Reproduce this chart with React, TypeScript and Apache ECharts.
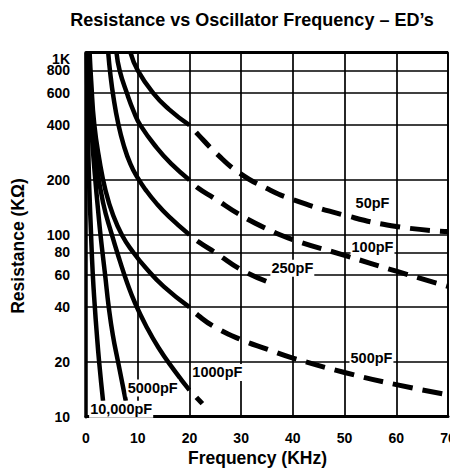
import React, { useEffect, useRef } from "react";
import * as echarts from "echarts";

const FONT = '"Liberation Sans", Arial, Helvetica, sans-serif';

const TITLE = "Resistance vs Oscillator Frequency – ED’s";
const X_NAME = "Frequency (KHz)";
const Y_NAME = "Resistance (KΩ)";

const X_MIN = 0;
const X_MAX = 70;
const X_STEP = 10;

const Y_GRID = [10, 20, 40, 60, 80, 100, 200, 400, 600, 800, 1000];
const Y_LABELS = ["10", "20", "40", "60", "80", "100", "200", "400", "600", "800", "1K"];

// Frequency (kHz), Resistance (KΩ)
const C50_SOLID = [[8.6, 1000], [10, 800], [13, 600], [16, 490], [20, 400]];
const C50_DASH = [[20, 400], [21.6, 357], [25.2, 280], [29.7, 218], [34.9, 180], [40, 156], [50, 128], [60, 111], [70, 104]];

const C100_SOLID = [[5.9, 1000], [6.5, 800], [7.9, 600], [9.3, 470], [10.5, 400], [13.7, 300], [16.5, 245], [20, 200]];
const C100_DASH = [[20, 200], [21.6, 181], [24.9, 158], [29.7, 129], [34.9, 108], [40, 94], [50, 77], [60, 63], [70, 52]];

const C250_SOLID = [[4.3, 1000], [4.7, 767], [5.3, 572], [6.2, 412], [7.3, 310], [8.6, 244], [10, 205], [11.5, 177], [13.5, 150], [16, 126], [20, 100]];
const C250_DASH = [[20, 100], [21.6, 92], [25.2, 79], [30.1, 64], [35.2, 55]];

const C500_SOLID = [[0.7, 1000], [1.0, 700], [1.6, 404], [2.6, 257], [3.8, 174], [5.2, 129], [7.0, 99], [9.0, 81], [11.5, 66], [15, 52], [20, 40]];
const C500_DASH = [[20, 40], [21.7, 36], [25, 31], [30, 26.5], [35, 23.5], [40, 21], [50, 17.5], [60, 15], [70, 13.2]];

const C1000_SOLID = [[0.45, 1000], [1.0, 500], [2.0, 250], [3.3, 150], [5.0, 100], [6.5, 72.5], [8.0, 54], [9.5, 42], [11.5, 32], [14, 24], [17, 18.1], [20, 14]];
const C1000_DASH = [[20, 14], [22.5, 11.8]];

const C5000_SOLID = [[0.4, 1000], [0.8, 500], [1.3, 300], [1.8, 200], [2.3, 140], [2.8, 100], [3.7, 60], [4.4, 40], [5.2, 28], [6.2, 20], [7.7, 12.2]];

const C10000_SOLID = [[0.16, 1000], [0.5, 250], [0.98, 100], [1.32, 60], [1.71, 40], [2.03, 30], [2.54, 20], [3.3, 12.2]];

const SOLID_CURVES = [C50_SOLID, C100_SOLID, C250_SOLID, C500_SOLID, C1000_SOLID, C5000_SOLID, C10000_SOLID];
const DASHED_CURVES = [C50_DASH, C100_DASH, C250_DASH, C500_DASH, C1000_DASH];

const CURVE_NAMES = ["50pF", "100pF", "250pF", "500pF", "1000pF", "5000pF", "10,000pF"];
// label anchor in data coordinates (kHz, KΩ)
const LABEL_FREQ = [55.4, 55.4, 39.9, 55.2, 25.4, 12.9, 6.8];
const LABEL_RES = [150, 86, 65.4, 20.9, 17.5, 14.4, 11.0];

function buildOption(): any {
  const black = "#000";
  const series: any[] = [];

  series.push({
    type: "line",
    name: "grid",
    data: [[X_MIN, Y_GRID[0]]],
    showSymbol: false,
    silent: true,
    lineStyle: { opacity: 0 },
    z: 1,
    markLine: {
      silent: true,
      z: 1,
      symbol: ["none", "none"],
      animation: false,
      lineStyle: { color: black, width: 1.7, type: "solid" },
      label: {
        show: true,
        position: "start",
        distance: 16,
        color: black,
        fontSize: 14,
        lineHeight: 12,
        fontWeight: "bold",
        fontFamily: FONT,
        formatter: "{b}",
      },
      emphasis: { disabled: true },
      data: Y_GRID.map((v, i) => {
        const item: any = { yAxis: v, name: Y_LABELS[i] };
        if (i === Y_GRID.length - 1) {
          item.lineStyle = { color: black, width: 3, type: "solid" };
          item.label = { verticalAlign: "top" };
        }
        return item;
      }),
    },
  });

  SOLID_CURVES.forEach((d, i) => {
    series.push({
      type: "line",
      name: CURVE_NAMES[i],
      data: d,
      showSymbol: false,
      smooth: 0.5,
      silent: true,
      z: 3,
      lineStyle: { color: black, width: 4.5, cap: "butt" },
    });
  });

  DASHED_CURVES.forEach((d, i) => {
    series.push({
      type: "line",
      name: CURVE_NAMES[i] + " (ext)",
      data: d,
      showSymbol: false,
      smooth: 0.5,
      silent: true,
      z: 3,
      lineStyle: { color: black, width: 5, type: [20, 10], dashOffset: 20, cap: "butt" },
    });
  });

  series.push({
    type: "line",
    name: "labels",
    data: [[X_MIN, Y_GRID[0]]],
    showSymbol: false,
    silent: true,
    lineStyle: { opacity: 0 },
    z: 10,
    markPoint: {
      silent: true,
      z: 10,
      animation: false,
      symbol: "rect",
      symbolSize: 1,
      itemStyle: { color: "rgba(0,0,0,0)" },
      label: {
        show: true,
        position: "inside",
        formatter: "{b}",
        color: black,
        fontSize: 14.5,
        fontWeight: "bold",
        fontFamily: FONT,
        backgroundColor: "#fff",
        padding: [1, 1],
      },
      data: CURVE_NAMES.map((n, i) => ({ name: n, coord: [LABEL_FREQ[i], LABEL_RES[i]] })),
    },
  });

  return {
    animation: false,
    backgroundColor: "#fff",
    textStyle: { fontFamily: FONT },
    grid: {
      left: 86,
      right: 2,
      top: 52.7,
      bottom: 53.3,
      show: true,
      borderColor: black,
      borderWidth: 1.7,
      backgroundColor: "transparent",
      containLabel: false,
      outerBoundsMode: "none",
    },
    xAxis: {
      type: "value",
      min: X_MIN,
      max: X_MAX,
      interval: X_STEP,
      axisLine: { show: true, onZero: false, lineStyle: { color: black, width: 3 } },
      axisTick: { show: false },
      axisLabel: { color: black, fontSize: 14, fontWeight: "bold", fontFamily: FONT, margin: 14, showMaxLabel: true, hideOverlap: false },
      splitLine: { show: true, lineStyle: { color: black, width: 1.7 } },
    },
    yAxis: {
      type: "log",
      logBase: 10,
      min: Y_GRID[0],
      max: Y_GRID[Y_GRID.length - 1],
      axisLine: { show: true, onZero: false, lineStyle: { color: black, width: 3.5 } },
      axisTick: { show: false },
      axisLabel: { show: false },
      splitLine: { show: false },
      minorSplitLine: { show: false },
    },
    graphic: [
      {
        type: "text",
        x: 252,
        y: 19.5,
        silent: true,
        style: {
          text: TITLE,
          fill: black,
          fontSize: 18,
          fontWeight: "bold",
          fontFamily: FONT,
          align: "center",
          verticalAlign: "middle",
          textAlign: "center",
          textVerticalAlign: "middle",
        },
      },
      {
        type: "text",
        x: 257.5,
        y: 457.5,
        silent: true,
        style: {
          text: X_NAME,
          fill: black,
          fontSize: 17.5,
          fontWeight: "bold",
          fontFamily: FONT,
          align: "center",
          verticalAlign: "middle",
          textAlign: "center",
          textVerticalAlign: "middle",
        },
      },
      {
        type: "text",
        x: 18,
        y: 246,
        rotation: Math.PI / 2,
        silent: true,
        style: {
          text: Y_NAME,
          fill: black,
          fontSize: 17.5,
          fontWeight: "bold",
          fontFamily: FONT,
          align: "center",
          verticalAlign: "middle",
          textAlign: "center",
          textVerticalAlign: "middle",
        },
      },
    ],
    series,
  };
}

export default function App() {
  const ref = useRef<HTMLDivElement>(null);
  useEffect(() => {
    if (!ref.current) return;
    const chart = echarts.init(ref.current, undefined, { renderer: "svg" });
    chart.setOption(buildOption());
    return () => {
      chart.dispose();
    };
  }, []);
  return (
    <div
      ref={ref}
      style={{ position: "absolute", left: 0, top: 0, width: 450, height: 470, background: "#fff" }}
    />
  );
}
